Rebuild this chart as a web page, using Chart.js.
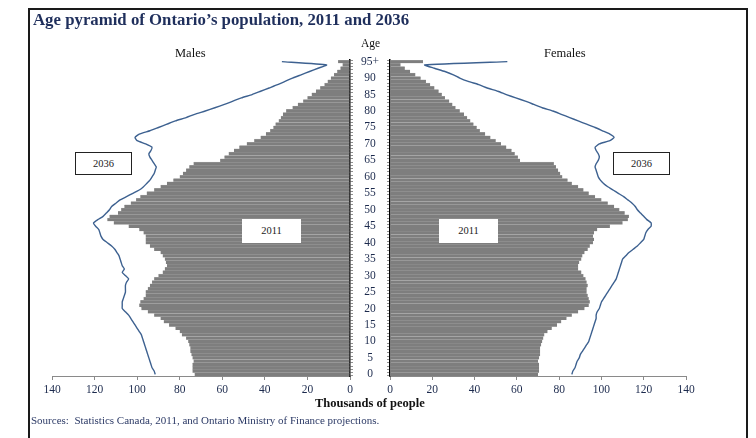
<!DOCTYPE html>
<html>
<head>
<meta charset="utf-8">
<title>Age pyramid of Ontario's population, 2011 and 2036</title>
<script src="https://cdn.jsdelivr.net/npm/chart.js@4.4.1/dist/chart.umd.min.js"></script>
<style>
  body { margin: 0; background: #fff; }
  #wrap { position: relative; width: 756px; height: 438px; overflow: hidden; font-family: "Liberation Serif", "DejaVu Serif", serif; }
  canvas { position: absolute; left: 0; top: 0; }
  .frame { position: absolute; left: 28px; top: 8px; width: 716px; height: 440px; border: 2px solid #1a1a1a; border-bottom: none; }
  .txt { position: absolute; white-space: nowrap; }
  .title { left: 33px; top: 10px; font-size: 16.8px; font-weight: bold; color: #1f2f5c; }
  .side { top: 46px; font-size: 12.5px; color: #111; }
  .age { left: 361px; top: 37px; font-size: 11.5px; color: #111; }
  .axisTitle { left: 315px; top: 396px; font-size: 12.5px; font-weight: bold; color: #111; }
  .src { left: 31px; top: 414px; font-size: 11px; color: #2c3a66; }
  .box { position: absolute; font-size: 10.5px; color: #222; text-align: center; background: #fff; }
  .b36 { border: 1.5px solid #222; width: 55px; height: 21px; line-height: 21px; top: 152px; }
  .b11 { width: 59px; height: 24px; line-height: 24px; top: 219px; }
</style>
</head>
<body>
<div id="wrap">
  <canvas id="males" width="756" height="438"></canvas>
  <canvas id="females" width="756" height="438"></canvas>
  <div class="frame"></div>
  <div class="txt title">Age pyramid of Ontario’s population, 2011 and 2036</div>
  <div class="txt side" style="left:175px">Males</div>
  <div class="txt side" style="left:544px">Females</div>
  <div class="txt age">Age</div>
  <div class="txt axisTitle">Thousands of people</div>
  <div class="txt src">Sources:&nbsp; Statistics Canada, 2011, and Ontario Ministry of Finance projections.</div>
  <div class="box b36" style="left:75px">2036</div>
  <div class="box b36" style="left:613px">2036</div>
  <div class="box b11" style="left:242px">2011</div>
  <div class="box b11" style="left:439px">2011</div>
</div>
<script>
// ages 0 .. 94 and 95+
const ages = [
  "0","1","2","3","4","5","6","7","8","9","10","11","12","13","14","15","16","17","18","19",
  "20","21","22","23","24","25","26","27","28","29","30","31","32","33","34","35","36","37","38","39",
  "40","41","42","43","44","45","46","47","48","49","50","51","52","53","54","55","56","57","58","59",
  "60","61","62","63","64","65","66","67","68","69","70","71","72","73","74","75","76","77","78","79",
  "80","81","82","83","84","85","86","87","88","89","90","91","92","93","94","95+"
];
const ageTicks = ["0","5","10","15","20","25","30","35","40","45","50","55","60","65","70","75","80","85","90","95+"];

// thousands of people
const males2011 = [
  73, 74, 74, 74, 73.5, 74, 74.5, 75, 75, 75.5,
  76, 77, 79, 80, 82, 85, 87.5, 89, 92, 95,
  98, 99, 98.5, 97, 96, 96, 95, 94, 93, 92,
  90, 88, 87, 86, 86.5, 87, 88, 89, 92, 94,
  96, 96, 96, 97, 99, 104, 111, 114, 113, 109,
  107.5, 106, 103, 100.5, 98.5, 95.5, 92, 89, 86, 83,
  80, 78.5, 77, 75.5, 73.5, 61, 59, 57, 54.5, 52,
  48.5, 45, 42, 39.5, 37.5, 36, 35, 33.5, 32.5, 31.5,
  30, 27, 24.5, 22, 20, 18, 16, 14, 12, 10.5,
  9, 7.5, 6, 4.5, 3.5, 5.6
];
const females2011 = [
  70, 70.5, 70.5, 70.5, 70, 70.5, 71, 71, 71, 71.5,
  72, 72.5, 73, 74.5, 76.5, 79, 81, 83.5, 86, 89,
  92, 94, 94.5, 94, 93.5, 93, 93, 93.5, 93, 92.5,
  91.5, 90.5, 89, 89, 89.5, 90.5, 91, 92, 93.5, 94.5,
  96, 96.5, 96, 96.5, 98, 104, 110, 112.5, 113, 111,
  108.5, 106, 103, 100, 97, 94, 91.5, 89, 86, 84,
  81.5, 80.5, 79.5, 78.5, 77.5, 61.5, 60.5, 59, 57.5, 55,
  52.5, 50, 47.5, 45, 42.5, 41, 39.5, 38, 36.5, 35,
  33, 31, 29.5, 28, 26, 24.5, 23, 21, 19, 17,
  14.5, 12, 9.5, 7, 5, 15.6
];
const males2036 = [
  91.5, 92, 93, 93.5, 94, 94.5, 95, 95.5, 96, 96.5,
  97, 97.5, 98, 99, 100, 101, 102, 103, 104, 105.5,
  107, 107, 107, 106.5, 106, 105.5, 105.5, 105.5, 105, 104,
  105.5, 107, 106, 107, 107.5, 108, 108.5, 109.5, 110.5, 112,
  114, 116, 117, 117.5, 118, 119.5, 120.5, 118.5, 116, 114.5,
  113, 112, 110, 108, 105, 102, 99, 97, 95.5, 94,
  93, 92, 91.5, 91, 92, 93, 94, 94.5, 93.5, 93,
  96, 100, 101, 99, 94, 90, 86, 82, 77, 73,
  68, 63.5, 59, 55, 51, 46, 42, 38, 34, 30.5,
  27, 23, 19, 15, 11, 32
];
const females2036 = [
  86, 86.5, 87.5, 88, 88.5, 89.5, 90, 91, 92, 93,
  94, 94.5, 95, 95.5, 96, 96.5, 97, 97.5, 97.5, 98,
  99, 99.5, 100, 101, 102, 103, 104, 105, 106, 107,
  107.5, 108, 108.5, 109, 109.5, 110, 111.5, 113, 115, 117,
  118.5, 120, 120.5, 121, 122, 123.5, 123.5, 121.5, 120, 118.5,
  117, 116, 114.5, 112.5, 110.5, 108, 105.5, 103, 101, 99.5,
  98.5, 98, 97.5, 97, 97.5, 98.5, 99, 98.5, 97.5, 97,
  99, 104, 106, 104, 100.5, 97, 93, 89, 85, 81,
  77, 72, 68, 64, 59.5, 55, 51, 46, 42, 37,
  33, 30, 26, 21, 16.4, 55.5
];

const barColor = "#7e7e7e";
const stripeColor = "#a6a6a6";
const lineColor = "#3d6190";
const tickFont = { family: "'Liberation Serif', 'DejaVu Serif', serif", size: 11.5 };
const tickColor = "#1c2a4d";

function makePyramid(id, bars, line, isLeft) {
    const ctx = document.getElementById(id).getContext("2d");
    return new Chart(ctx, {
        data: {
            labels: ages,
            datasets: [
                {
                    type: "line",
                    indexAxis: "y",
                    data: line,
                    borderColor: lineColor,
                    borderWidth: 1.4,
                    pointRadius: 0,
                    tension: 0.15,
                    fill: false,
                    order: 0,
                },
                {
                    type: "bar",
                    indexAxis: "y",
                    data: bars,
                    backgroundColor: barColor,
                    borderColor: stripeColor,
                    borderWidth: { top: 0.5, bottom: 0, left: 0, right: 0 },
                    borderSkipped: false,
                    barPercentage: 1,
                    categoryPercentage: 1,
                    order: 1,
                },
            ],
        },
        options: {
            indexAxis: "y",
            responsive: false,
            animation: false,
            layout: {
                padding: isLeft
                    ? { left: 52, right: 403, top: 60, bottom: 40 }
                    : { left: 353, right: 70, top: 60, bottom: 40 },
            },
            plugins: {
                legend: { display: false },
                tooltip: { enabled: false },
            },
            scales: {
                x: {
                    type: "linear",
                    min: 0,
                    max: 140,
                    reverse: isLeft,
                    afterFit: (scale) => { scale.height = 22; },
                    ticks: { stepSize: 20, font: tickFont, color: tickColor, padding: 3 },
                    grid: { drawOnChartArea: false, tickLength: 4, color: "#8a8a8a" },
                    border: { color: "#8a8a8a", width: 1 },
                },
                y: {
                    type: "category",
                    reverse: true,
                    position: isLeft ? "right" : "left",
                    afterFit: (scale) => { scale.width = isLeft ? 3 : 37; },
                    ticks: {
                        display: !isLeft,
                        autoSkip: false,
                        font: tickFont,
                        color: tickColor,
                        crossAlign: "center",
                        padding: 8,
                        callback: (v, i) => ageTicks.includes(ages[i]) ? ages[i] : "",
                    },
                    grid: { drawOnChartArea: false, tickLength: 3, color: "#444", lineWidth: 0.6 },
                    border: { color: "#000", width: 1.5 },
                },
            },
        },
    });
}

makePyramid("males", males2011, males2036, true);
makePyramid("females", females2011, females2036, false);
</script>
</body>
</html>
